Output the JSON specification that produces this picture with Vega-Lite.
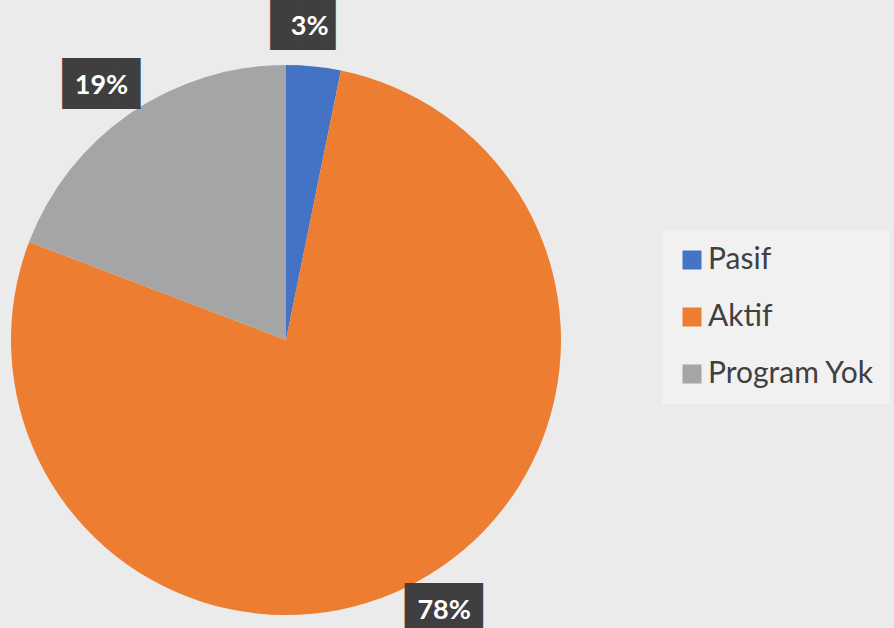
{
  "$schema": "https://vega.github.io/schema/vega-lite/v6.json",
  "width": 552,
  "height": 550,
  "autosize": {"type": "none"},
  "padding": {"left": 10, "top": 65, "right": 332, "bottom": 13},
  "background": "#ebebeb",
  "config": {"view": {"stroke": null}},
  "data": {
    "values": [
      {"k": 1, "status": "Pasif", "share": 0.032},
      {"k": 2, "status": "Aktif", "share": 0.776},
      {"k": 3, "status": "Program Yok", "share": 0.192}
    ]
  },
  "encoding": {
    "theta": {"field": "share", "type": "quantitative", "stack": true},
    "order": {"field": "k", "type": "quantitative"}
  },
  "layer": [
    {
      "mark": {"type": "arc", "outerRadius": 275},
      "encoding": {
        "color": {
          "field": "status",
          "type": "nominal",
          "sort": ["Pasif", "Aktif", "Program Yok"],
          "scale": {"domain": ["Pasif", "Aktif", "Program Yok"], "range": ["#4472c4", "#ed7d31", "#a5a5a5"]},
          "legend": {
            "title": null,
            "orient": "none",
            "legendX": 652,
            "legendY": 165,
            "padding": 15,
            "fillColor": "#f1f1f1",
            "symbolType": "square",
            "symbolSize": 361,
            "symbolStrokeWidth": 0,
            "labelFont": "Lato",
            "labelFontSize": 30,
            "labelColor": "#404040",
            "labelOffset": 1,
            "rowPadding": 27,
            "labelLimit": 300
          }
        }
      }
    },
    {
      "mark": {"type": "text", "radius": 314, "thetaOffset": -0.025, "font": "DejaVu Sans Mono", "fontSize": 43, "color": "#3f3f3f", "baseline": "middle", "align": "center", "dy": -1},
      "encoding": {
        "text": {"condition": {"test": "datum.share < 0.1", "value": "██▌"}, "value": "███"}
      }
    },
    {
      "mark": {"type": "text", "radius": 314, "thetaOffset": -0.025, "font": "Lato", "fontWeight": "bold", "fontSize": 27, "color": "#ffffff", "baseline": "middle", "align": "center"},
      "encoding": {
        "text": {"field": "share", "type": "quantitative", "format": ".0%"}
      }
    }
  ]
}
